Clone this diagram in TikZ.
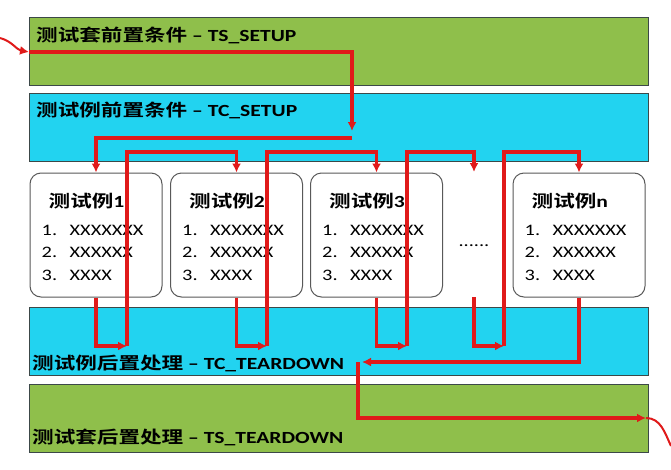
\documentclass[tikz,border=0pt]{standalone}
\usepackage{fontspec}
\setmainfont{Carlito}[FakeStretch=1.27]
\newfontfamily\cjk{Noto Sans CJK SC}[FakeStretch=1.27,BoldFont={Noto Sans CJK SC Bold}]
\usetikzlibrary{positioning,calc,arrows.meta}

\definecolor{bandgreen}{HTML}{8FBF4B}
\definecolor{bandcyan}{HTML}{22D3F0}
\definecolor{bandline}{HTML}{3C4848}
\definecolor{flowred}{HTML}{E01A1A}

\tikzset{
  band/.style={draw=bandline, line width=1pt, minimum width=619pt, minimum height=68pt, inner sep=0pt},
  bandtxt/.style={anchor=west, inner sep=0pt, font=\fontsize{17}{20}\selectfont\bfseries},
  casebox/.style={draw=black!65, line width=1pt, rounded corners=11pt, fill=white, minimum width=132pt, minimum height=124pt},
  casetxt/.style={anchor=west, inner sep=0pt, font=\fontsize{17}{20}\selectfont\bfseries},
  itemtxt/.style={anchor=west, inner sep=0pt, align=left, font=\fontsize{16}{22.5}\selectfont},
  flow/.style={draw=flowred, line width=3.2pt},
  flowin/.style={draw=flowred, line width=2pt},
}
\newcommand{\caseitems}{\makebox[28pt][l]{1.}XXXXXXX\\\makebox[28pt][l]{2.}XXXXXX\\\makebox[28pt][l]{3.}XXXX}

\begin{document}
\begin{tikzpicture}[x=1pt, y=-1pt, >={Latex[length=9pt,width=9pt]}]
  \useasboundingbox (0,0) rectangle (671,469);
  \fill[white] (0,0) rectangle (671,469);

  % setup and teardown bands
  \node[band, fill=bandgreen] (tsS) at (338.5,51) {};
  \node[band, fill=bandcyan] (tcS) at (338.5,127) {};
  \node[band, fill=bandcyan] (tcT) at (338.5,341.5) {};
  \node[band, fill=bandgreen] (tsT) at (338.5,418.5) {};
  \node[bandtxt] (tsSt) at (36,35) {{\cjk\bfseries 测试套前置条件} – TS\_SETUP};
  \node[bandtxt] (tcSt) at (36,110) {{\cjk\bfseries 测试例前置条件} – TC\_SETUP};
  \node[bandtxt] (tcTt) at (32,363) {{\cjk\bfseries 测试例后置处理} – TC\_TEARDOWN};
  \node[bandtxt] (tsTt) at (32,437) {{\cjk\bfseries 测试套后置处理} – TS\_TEARDOWN};

  % test cases
  \node[casebox] (tc1) at (96,235) {};
  \node[casebox] (tc2) at (236.5,235) {};
  \node[casebox] (tc3) at (376.5,235) {};
  \node[casebox] (tcn) at (579,235) {};
  \node[casetxt] (tc1t) at ($(tc1.north west)+(19,29)$) {{\cjk 测试例}1};
  \node[casetxt] (tc2t) at ($(tc2.north west)+(19,29)$) {{\cjk 测试例}2};
  \node[casetxt] (tc3t) at ($(tc3.north west)+(19,29)$) {{\cjk 测试例}3};
  \node[casetxt] (tcnt) at ($(tcn.north west)+(19,29)$) {{\cjk 测试例}n};
  \node[itemtxt] (tc1i) at ($(tc1.north west)+(12,80)$) {\caseitems};
  \node[itemtxt] (tc2i) at ($(tc2.north west)+(12,80)$) {\caseitems};
  \node[itemtxt] (tc3i) at ($(tc3.north west)+(12,80)$) {\caseitems};
  \node[itemtxt] (tcni) at ($(tcn.north west)+(12,80)$) {\caseitems};
  \node[inner sep=0pt, font=\fontsize{16}{20}\selectfont] (dots) at (474,246) {......};

  % flow points
  \coordinate (entry) at (0,38);
  \coordinate (tsin) at (29,52);
  \coordinate (sdown) at (352,131);
  \coordinate (sout) at (352,138);
  \coordinate (lvl) at (0,152);
  \coordinate (dtop) at (474,172);
  \coordinate (dbot) at (474,297);
  \coordinate (r1) at (127,346);
  \coordinate (r2) at (267,346);
  \coordinate (r3) at (407,346);
  \coordinate (r4) at (504,346);
  \coordinate (back) at (362,362);
  \coordinate (tdown) at (358,362);
  \coordinate (tsend) at (646,418);
  \coordinate (exit) at (671,446);

  % red flow
  \draw[flowin,->] (entry) to[out=-15,in=170] (tsin);
  \draw[flow,->] (tsin) -| (sdown);
  \draw[flow,->] (sout) -| (tc1.north);
  \draw[flow,->] (tc1.south) |- (r1);
  \draw[flow,->] (r1) -- (r1 |- lvl) -| (tc2.north);
  \draw[flow,->] (tc2.south) |- (r2);
  \draw[flow,->] (r2) -- (r2 |- lvl) -| (tc3.north);
  \draw[flow,->] (tc3.south) |- (r3);
  \draw[flow,->] (r3) -- (r3 |- lvl) -| (dtop);
  \draw[flow,->] (dbot) |- (r4);
  \draw[flow,->] (r4) -- (r4 |- lvl) -| (tcn.north);
  \draw[flow,->] (tcn.south) |- (back);
  \draw[flow,->] (tdown) |- (tsend);
  \draw[flowin] (tsend) to[out=0,in=115] (exit);
\end{tikzpicture}
\end{document}
